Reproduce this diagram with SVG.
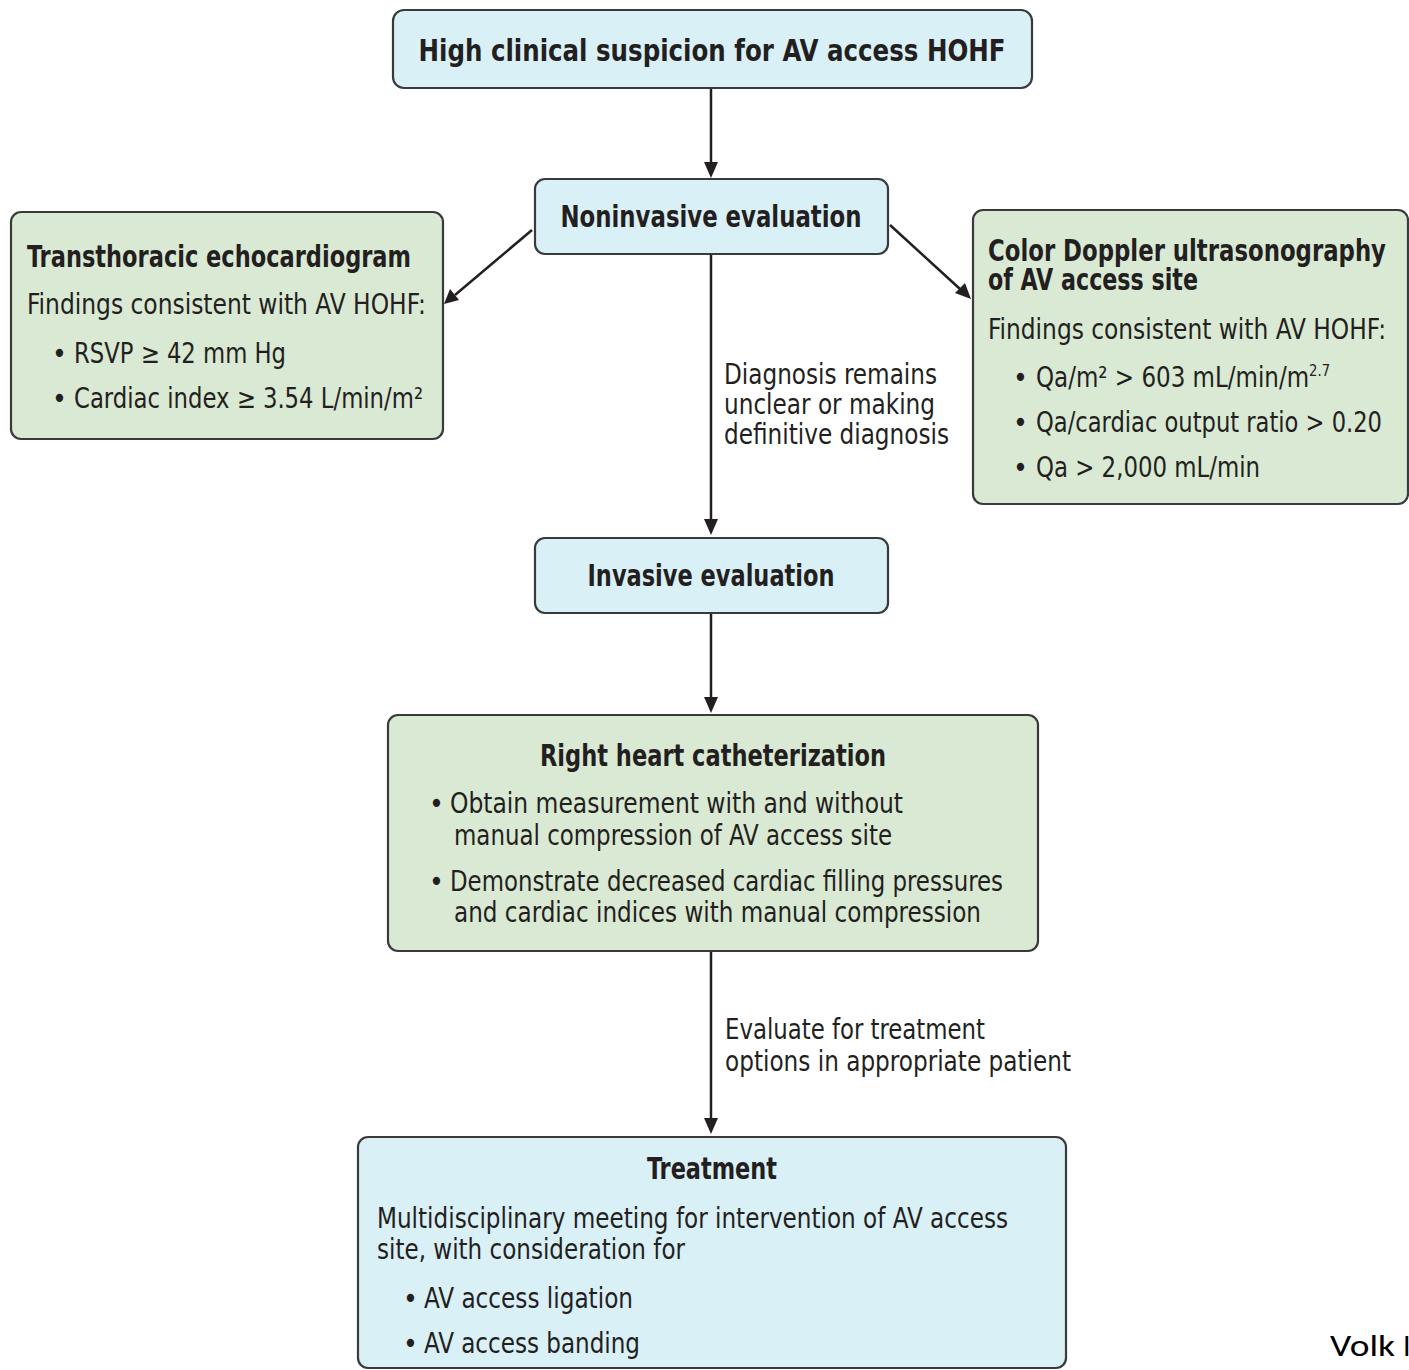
<svg xmlns="http://www.w3.org/2000/svg" width="1409" height="1370" viewBox="0 0 1409 1370">
<style>
.blue{fill:#daf0f7;stroke:#3a3a3a;stroke-width:2.2}
.green{fill:#d9e9d3;stroke:#3a3a3a;stroke-width:2.2}
text{font-family:'Liberation Sans Narrow','DejaVu Sans Condensed','Liberation Sans',sans-serif;fill:#231f20}
.h{font-size:31px;font-weight:bold}
.b{font-size:28px}
.c{text-anchor:middle}
.ln{stroke:#231f20;stroke-width:2.5;fill:none}
.volk{font-family:Carlito,Lato,'Liberation Sans',sans-serif;font-size:30px;fill:#000}
</style>
<g id="connectors">
<line class="ln" x1="711" y1="88" x2="711" y2="162"/><path d="M704,162 L718,162 L711,178 Z" fill="#231f20"/>
<line class="ln" x1="532" y1="230" x2="455" y2="295"/><path d="M444,304 L450,289 L459,300 Z" fill="#231f20"/>
<line class="ln" x1="890" y1="225" x2="960" y2="289"/><path d="M971,299 L955,293 L965,283 Z" fill="#231f20"/>
<line class="ln" x1="711" y1="254" x2="711" y2="520"/><path d="M704,519 L718,519 L711,535 Z" fill="#231f20"/>
<line class="ln" x1="711" y1="613" x2="711" y2="697"/><path d="M704,697 L718,697 L711,713 Z" fill="#231f20"/>
<line class="ln" x1="711" y1="951" x2="711" y2="1119"/><path d="M704,1118 L718,1118 L711,1134 Z" fill="#231f20"/>
<text class="b" x="724" y="384" textLength="213" lengthAdjust="spacingAndGlyphs">Diagnosis remains</text>
<text class="b" x="724" y="414" textLength="211" lengthAdjust="spacingAndGlyphs">unclear or making</text>
<text class="b" x="724" y="444" textLength="225" lengthAdjust="spacingAndGlyphs">definitive diagnosis</text>
<text class="b" x="725" y="1039" textLength="260" lengthAdjust="spacingAndGlyphs">Evaluate for treatment</text>
<text class="b" x="725" y="1071" textLength="346" lengthAdjust="spacingAndGlyphs">options in appropriate patient</text>
</g>
<g id="n-suspicion">
<rect class="blue" x="393" y="10" width="639" height="78" rx="11"/>
<text class="h c" x="712" y="61" textLength="587" lengthAdjust="spacingAndGlyphs">High clinical suspicion for AV access HOHF</text>
</g>
<g id="n-noninvasive">
<rect class="blue" x="535" y="179" width="353" height="75" rx="10"/>
<text class="h c" x="711" y="227" textLength="301" lengthAdjust="spacingAndGlyphs">Noninvasive evaluation</text>
</g>
<g id="n-tte">
<rect class="green" x="11" y="212" width="432" height="227" rx="10"/>
<text class="h" x="27" y="267" textLength="384" lengthAdjust="spacingAndGlyphs">Transthoracic echocardiogram</text>
<text class="b" x="27" y="314" textLength="399" lengthAdjust="spacingAndGlyphs">Findings consistent with AV HOHF:</text>
<text class="b" x="52" y="363">•</text>
<text class="b" x="74" y="363" textLength="212" lengthAdjust="spacingAndGlyphs">RSVP ≥ 42 mm Hg</text>
<text class="b" x="52" y="408">•</text>
<text class="b" x="74" y="408" textLength="349" lengthAdjust="spacingAndGlyphs">Cardiac index ≥ 3.54 L/min/m²</text>
</g>
<g id="n-doppler">
<rect class="green" x="973" y="210" width="435" height="294" rx="10"/>
<text class="h" x="988" y="261" textLength="398" lengthAdjust="spacingAndGlyphs">Color Doppler ultrasonography</text>
<text class="h" x="988" y="290" textLength="210" lengthAdjust="spacingAndGlyphs">of AV access site</text>
<text class="b" x="988" y="339" textLength="398" lengthAdjust="spacingAndGlyphs">Findings consistent with AV HOHF:</text>
<text class="b" x="1013" y="387">•</text>
<text class="b" x="1036" y="387" textLength="294" lengthAdjust="spacingAndGlyphs">Qa/m² &gt; 603 mL/min/m<tspan font-size="16" dy="-11">2.7</tspan></text>
<text class="b" x="1013" y="432">•</text>
<text class="b" x="1036" y="432" textLength="346" lengthAdjust="spacingAndGlyphs">Qa/cardiac output ratio &gt; 0.20</text>
<text class="b" x="1013" y="477">•</text>
<text class="b" x="1036" y="477" textLength="224" lengthAdjust="spacingAndGlyphs">Qa &gt; 2,000 mL/min</text>
</g>
<g id="n-invasive">
<rect class="blue" x="535" y="538" width="353" height="75" rx="10"/>
<text class="h c" x="711" y="586" textLength="247" lengthAdjust="spacingAndGlyphs">Invasive evaluation</text>
</g>
<g id="n-rhc">
<rect class="green" x="388" y="715" width="650" height="236" rx="10"/>
<text class="h c" x="713" y="766" textLength="346" lengthAdjust="spacingAndGlyphs">Right heart catheterization</text>
<text class="b" x="429" y="813">•</text>
<text class="b" x="450" y="813" textLength="453" lengthAdjust="spacingAndGlyphs">Obtain measurement with and without</text>
<text class="b" x="454" y="845" textLength="438" lengthAdjust="spacingAndGlyphs">manual compression of AV access site</text>
<text class="b" x="429" y="891">•</text>
<text class="b" x="450" y="891" textLength="553" lengthAdjust="spacingAndGlyphs">Demonstrate decreased cardiac filling pressures</text>
<text class="b" x="454" y="922" textLength="527" lengthAdjust="spacingAndGlyphs">and cardiac indices with manual compression</text>
</g>
<g id="n-treatment">
<rect class="blue" x="358" y="1137" width="708" height="231" rx="10"/>
<text class="h c" x="712" y="1179" textLength="130" lengthAdjust="spacingAndGlyphs">Treatment</text>
<text class="b" x="377" y="1228" textLength="631" lengthAdjust="spacingAndGlyphs">Multidisciplinary meeting for intervention of AV access</text>
<text class="b" x="377" y="1259" textLength="308" lengthAdjust="spacingAndGlyphs">site, with consideration for</text>
<text class="b" x="403" y="1308">•</text>
<text class="b" x="424" y="1308" textLength="209" lengthAdjust="spacingAndGlyphs">AV access ligation</text>
<text class="b" x="403" y="1353">•</text>
<text class="b" x="424" y="1353" textLength="216" lengthAdjust="spacingAndGlyphs">AV access banding</text>
</g>
<text class="volk" x="1330" y="1356"><tspan textLength="65" lengthAdjust="spacingAndGlyphs">Volk</tspan><tspan x="1403">I</tspan></text>
</svg>
